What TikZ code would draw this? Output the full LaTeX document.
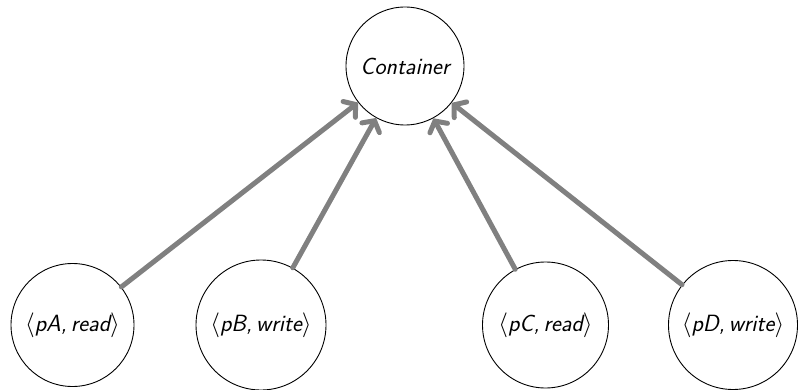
\documentclass[tikz,border=0pt]{standalone}
\usetikzlibrary{arrows.meta}
\begin{document}
\begin{tikzpicture}[x=1pt,y=-1pt,
  state/.style={circle,draw=black,line width=0.9pt,inner sep=0pt,
    font=\fontsize{23.5}{28}\selectfont\sffamily\itshape},
  flow/.style={draw=gray,line width=5pt,line cap=round,
    -{Straight Barb[length=8pt,width=20pt,line cap=round]}}]
\useasboundingbox (0,0) rectangle (798,390);
\node[state,minimum size=118pt] (c) at (405,66) {Container};
\node[state,minimum size=123pt] (a) at (72.5,325) {$\langle$pA,\,read$\rangle$};
\node[state,minimum size=130pt] (b) at (261,325) {$\langle$pB,\,write$\rangle$};
\node[state,minimum size=126pt] (cc) at (545.5,325) {$\langle$pC,\,read$\rangle$};
\node[state,minimum size=129pt] (d) at (733,325) {$\langle$pD,\,write$\rangle$};
\draw[flow] (a) -- (c);
\draw[flow] (b) -- (c);
\draw[flow] (cc) -- (c);
\draw[flow] (d) -- (c);
\end{tikzpicture}
\end{document}
